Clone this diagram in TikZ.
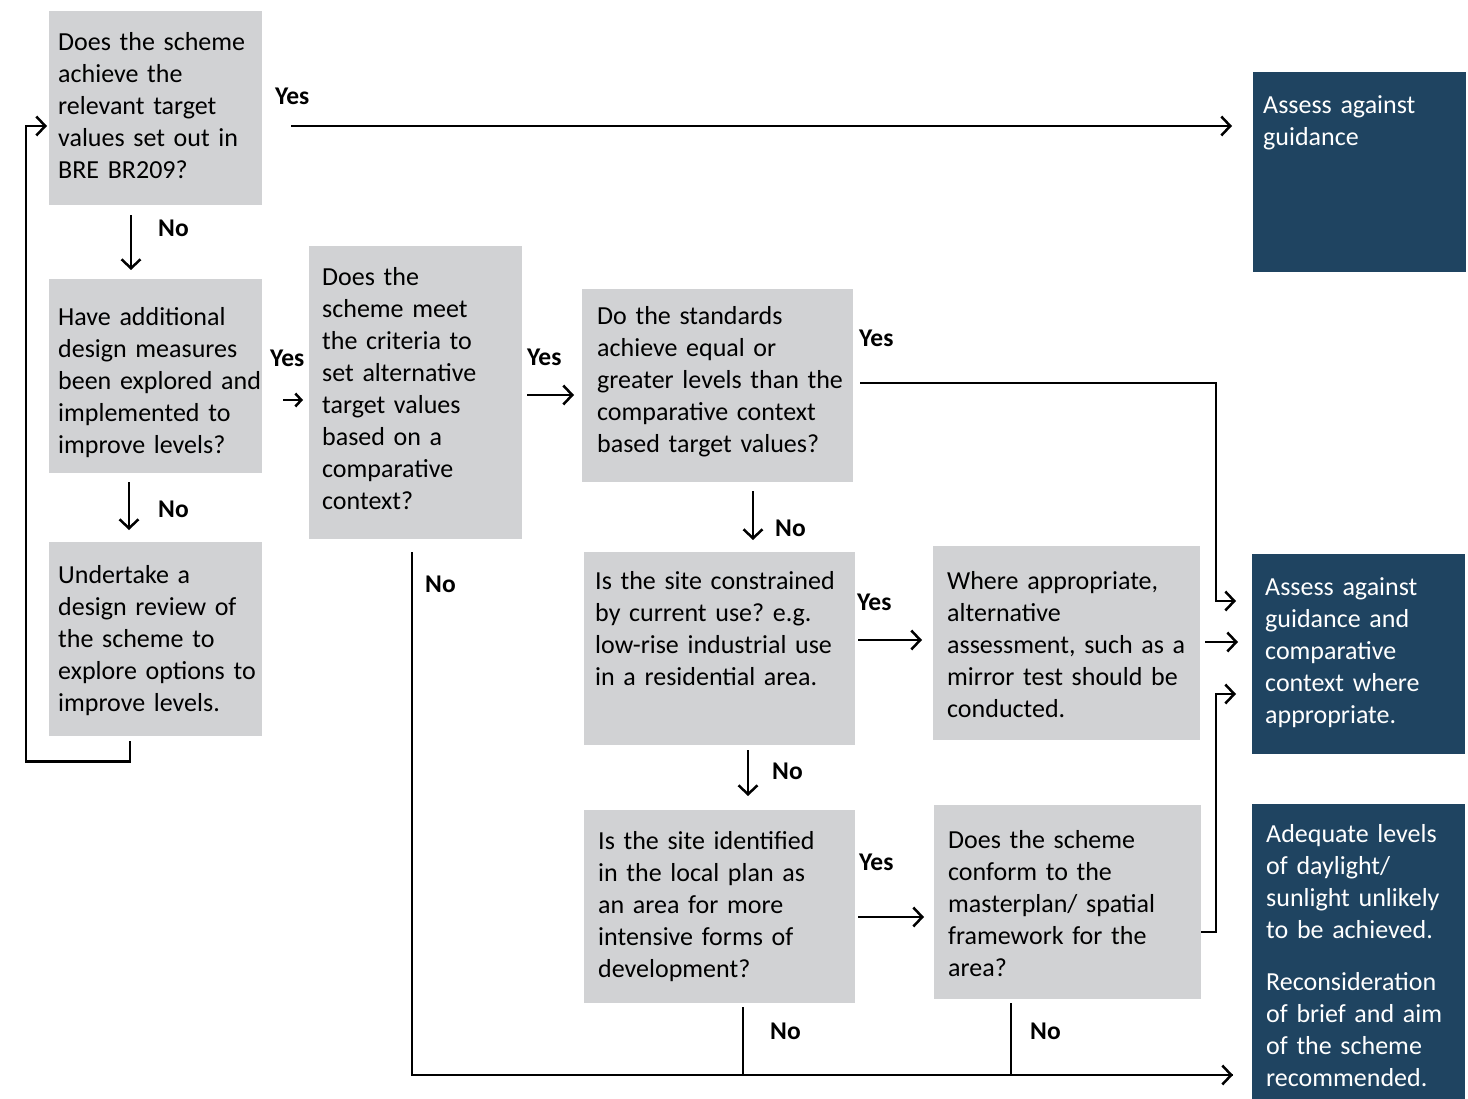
\documentclass[tikz,border=0pt]{standalone}
\usepackage{fontspec}
\setmainfont{Carlito}
\usetikzlibrary{calc,arrows.meta}
\definecolor{qgrey}{HTML}{D1D2D4}
\definecolor{adark}{HTML}{1F4461}
\frenchspacing

\begin{document}
\begin{tikzpicture}[
		x=1pt,y=-1pt,
		>={Straight Barb[length=9pt,width=19pt]},
		boxtext/.style={anchor=north west,inner ysep=0pt,align=left,
			font=\fontsize{26}{32}\selectfont},
		% #1 = left padding, #2 = text width, #3 = top to first baseline, #4 = first baseline to bottom
		question/.style n args={4}{boxtext,fill=qgrey,text=black,
			inner xsep=#1,text width=#2,text height=#3,text depth=#4},
		outcome/.style n args={4}{boxtext,fill=adark,text=white,
			inner xsep=#1,text width=#2,text height=#3,text depth=#4},
		answer/.style={anchor=base west,inner sep=0pt,
			font=\fontsize{25.5}{30}\selectfont\bfseries},
		flow/.style={line width=2.5pt},
		shortflow/.style={flow,>={Straight Barb[length=6pt,width=13pt]}},
	]
	\useasboundingbox (0,0) rectangle (1468,1099);
	%
	% left column
	\node[question={9pt}{195pt}{39pt}{155pt}] (achieve) at (49,11) {Does the scheme\\
		achieve the\\
		relevant target\\
		values set out in\\
		BRE BR209?};
	\node[question={9pt}{195pt}{46pt}{148pt}] (measures) at (49,279) {Have additional\\
		design measures\\
		\mbox{been explored and}\\
		implemented to\\
		improve levels?};
	\node[question={9pt}{195pt}{41pt}{153pt}] (review) at (49,542) {Undertake a\\
		design review of\\
		the scheme to\\
		\mbox{explore options to}\\
		improve levels.};
	% middle columns
	\node[question={13pt}{187pt}{39pt}{254pt}] (criteria) at (309,246) {Does the\\
		scheme meet\\
		the criteria to\\
		set alternative\\
		target values\\
		based on a\\
		comparative\\
		context?};
	\node[question={15pt}{241pt}{35pt}{158pt}] (standards) at (582,289) {Do the standards\\
		achieve equal or\\
		\mbox{greater levels than the}\\
		comparative context\\
		based target values?};
	\node[question={11pt}{249pt}{37pt}{156pt}] (constrained) at (584,552) {Is the site constrained\\
		by current use? e.g.\\
		low-rise industrial use\\
		in a residential area.};
	\node[question={14pt}{243pt}{39pt}{154pt}] (localplan) at (584,810) {Is the site identified\\
		in the local plan as\\
		an area for more\\
		intensive forms of\\
		development?};
	\node[question={14pt}{239pt}{43pt}{151pt}] (alternative) at (933,546) {Where appropriate,\\
		alternative\\
		\mbox{assessment, such as a}\\
		mirror test should be\\
		conducted.};
	\node[question={14pt}{239pt}{43pt}{151pt}] (masterplan) at (934,805) {Does the scheme\\
		conform to the\\
		masterplan/ spatial\\
		framework for the\\
		area?};
	% outcomes
	\node[outcome={10pt}{193pt}{41pt}{159pt}] (assess) at (1253,72) {Assess against\\
		guidance};
	\node[outcome={13pt}{187pt}{41pt}{159pt}] (assessctx) at (1252,554) {Assess against\\
		guidance and\\
		comparative\\
		context where\\
		appropriate.};
	\node[outcome={14pt}{185pt}{38pt}{257pt}] (inadequate) at (1252,804) {Adequate levels\\
		of daylight/\\
		sunlight unlikely\\
		to be achieved.\\[20pt]
		Reconsideration\\
		of brief and aim\\
		of the scheme\\
		recommended.};
	%
	% answers
	\node[answer] (yesA) at (275,105) {Yes};
	\node[answer] (noA)  at (158,237) {No};
	\node[answer] (yesB) at (270,367) {Yes};
	\node[answer] (noB)  at (158,517) {No};
	\node[answer] (yesC) at (527,366) {Yes};
	\node[answer] (noC)  at (425,592) {No};
	\node[answer] (yesD) at (859,347) {Yes};
	\node[answer] (noD)  at (775,536) {No};
	\node[answer] (yesE) at (857,610) {Yes};
	\node[answer] (noE)  at (772,779) {No};
	\node[answer] (yesF) at (859,870) {Yes};
	\node[answer] (noF)  at (770,1039) {No};
	\node[answer] (noG)  at (1030,1039) {No};
	%
	% connectors
	\coordinate (nobus) at ($ (inadequate.north west) + (-19,271) $);
	\draw[flow,->] ($ (achieve.north east) + (29,115) $) -- ($ (assess.north west) + (-21,54) $);
	\draw[flow,->] ($ (achieve.south west) + (82,10) $) -- ($ (measures.north west) + (82,-9) $);
	\draw[flow,->] ($ (measures.south west) + (80,9) $) -- ($ (review.north west) + (80,-12) $);
	\draw[flow,->] ($ (review.south west) + (81,5) $) |- ($ (review.south west) + (-23,25) $)
		|- ($ (achieve.north west) + (-2,115) $);
	\draw[shortflow,->] ($ (measures.north east) + (21,121) $) -- ($ (criteria.north west) + (-6,154) $);
	\draw[flow,->] ($ (criteria.north east) + (5,149) $) -- ($ (standards.north west) + (-8,106) $);
	\draw[flow,->] ($ (standards.north east) + (7,94) $) -| ($ (assessctx.north west) + (-36,47) $)
		-- ($ (assessctx.north west) + (-16,47) $);
	\draw[flow,->] ($ (standards.south west) + (171,9) $) -- ($ (constrained.north west) + (169,-12) $);
	\draw[flow,->] ($ (constrained.north east) + (3,88) $) -- ($ (alternative.north west) + (-11,94) $);
	\draw[flow,->] ($ (alternative.north east) + (5,96) $) -- ($ (assessctx.north west) + (-14,88) $);
	\draw[flow,->] ($ (constrained.south west) + (164,5) $) -- ($ (localplan.north west) + (164,-14) $);
	\draw[flow,->] ($ (localplan.north east) + (3,107) $) -- ($ (masterplan.north west) + (-10,112) $);
	\draw[flow,->] ($ (masterplan.north east) + (0,127) $) -| ($ (assessctx.north west) + (-36,140) $)
		-- ($ (assessctx.north west) + (-16,140) $);
	\draw[flow,->] ($ (criteria.south west) + (103,13) $) |- (nobus);
	\draw[flow] ($ (localplan.south west) + (159,4) $) |- (nobus);
	\draw[flow] ($ (masterplan.south west) + (77,4) $) |- (nobus);
\end{tikzpicture}
\end{document}
